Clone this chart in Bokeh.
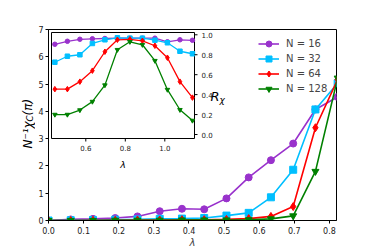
from math import pi
from bokeh.plotting import figure
from bokeh.layouts import row
from bokeh.models import (Range1d, FixedTicker, PrintfTickFormatter, Label, Legend,
                          LegendItem)
from bokeh.core.properties import value
from bokeh.embed import file_html
from bokeh.resources import INLINE

# ---------------- data ----------------
lam_main = [0.0, 0.0633, 0.1267, 0.19, 0.2533, 0.3167, 0.38, 0.4433, 0.5067,
            0.57, 0.6333, 0.6967, 0.76, 0.8233]
chi_16 = [0.0, 0.04, 0.06, 0.09, 0.15, 0.34, 0.43, 0.41, 0.81, 1.58, 2.21, 2.82, 4.07, 4.53]
chi_32 = [0.0, 0.01, 0.02, 0.03, 0.04, 0.06, 0.07, 0.09, 0.18, 0.28, 0.85, 1.86, 4.07, 5.03]
chi_64 = [0.0, 0.0, 0.01, 0.01, 0.02, 0.02, 0.03, 0.03, 0.04, 0.07, 0.15, 0.51, 3.40, 5.17]
chi_128 = [0.0, 0.0, 0.0, 0.01, 0.01, 0.01, 0.02, 0.02, 0.02, 0.03, 0.06, 0.17, 1.80, 5.22]

lam_inset = [0.4433, 0.5067, 0.57, 0.6333, 0.6967, 0.76, 0.8233, 0.8867, 0.95,
             1.0133, 1.0767, 1.14]
R_16 = [0.905, 0.935, 0.955, 0.96, 0.963, 0.966, 0.966, 0.966, 0.966, 0.93, 0.95, 0.945]
R_32 = [0.725, 0.785, 0.80, 0.913, 0.95, 0.97, 0.966, 0.966, 0.946, 0.92, 0.835, 0.81]
R_64 = [0.455, 0.455, 0.53, 0.64, 0.83, 0.95, 0.955, 0.94, 0.89, 0.77, 0.53, 0.37]
R_128 = [0.20, 0.20, 0.245, 0.33, 0.495, 0.85, 0.93, 0.90, 0.74, 0.45, 0.248, 0.14]

labels = ["N = 16", "N = 32", "N = 64", "N = 128"]
colors = ["#9932CC", "#00BFFF", "#FF0000", "#008000"]
markers = ["circle", "square", "diamond", "inverted_triangle"]

main_xticks = [0.0, 0.1, 0.2, 0.3, 0.4, 0.5, 0.6, 0.7, 0.8]
main_yticks = [0, 1, 2, 3, 4, 5, 6, 7]
inset_xticks = [0.6, 0.8, 1.0]
inset_xtick_labels = ["0.6", "0.8", "1.0"]
inset_yticks = [0.0, 0.2, 0.4, 0.6, 0.8, 1.0]
inset_ytick_labels = ["0.0", "0.2", "0.4", "0.6", "0.8", "1.0"]

FONT = "DejaVu Sans"

# ---------------- layout constants ----------------
LW = 35                               # width of the y-label strip
FW, FH = 288, 191                     # main frame size (px)
TOP, BOT = 29, 28                     # borders above / below the frame
IX0, IX1 = 0.4263, 1.1504             # inset data limits
IY0, IY1 = -0.04, 1.023
IL, IR, IB, IT = 3, 146, 82, 188      # inset frame, px from main frame bottom-left

sx = (IR - IL) / (IX1 - IX0)
sy = (IT - IB) / (IY1 - IY0)
ix_start = IX0 - IL / sx
iy_start = IY0 - IB / sy

# ---------------- y-label strip (same vertical layout as the main plot) ----------------
lab = figure(frame_width=LW, frame_height=FH,
             min_border_left=0, min_border_right=0,
             min_border_top=TOP, min_border_bottom=BOT,
             x_range=Range1d(0, LW), y_range=Range1d(0, FH),
             x_axis_location=None, y_axis_location=None,
             output_backend="svg", toolbar_location=None)
lab.grid.visible = False
lab.outline_line_color = None
lab.background_fill_color = "white"
lab.border_fill_color = "white"
lab.add_layout(Label(x=27.5, y=72, x_units="screen", y_units="screen", angle=pi / 2,
                     text="N⁻¹χ", text_font=FONT, text_font_size="12px",
                     text_font_style="italic", text_baseline="alphabetic",
                     text_align="left", text_color="black"))
lab.add_layout(Label(x=29.5, y=99, x_units="screen", y_units="screen", angle=pi / 2,
                     text="C", text_font=FONT, text_font_size="8.5px",
                     text_font_style="italic", text_baseline="alphabetic",
                     text_align="left", text_color="black"))
lab.add_layout(Label(x=27.5, y=105, x_units="screen", y_units="screen", angle=pi / 2,
                     text="(π)", text_font=FONT, text_font_size="12px",
                     text_font_style="italic", text_baseline="alphabetic",
                     text_align="left", text_color="black"))

# ---------------- main figure ----------------
p = figure(frame_width=FW, frame_height=FH,
           min_border_left=46 - LW, min_border_right=38,
           min_border_top=TOP, min_border_bottom=BOT,
           x_range=Range1d(0, 0.82), y_range=Range1d(0, 7),
           output_backend="svg", toolbar_location=None)
p.extra_x_ranges = {"ix": Range1d(ix_start, ix_start + FW / sx)}
p.extra_y_ranges = {"iy": Range1d(iy_start, iy_start + FH / sy)}
p.grid.visible = False
p.outline_line_color = "black"
p.outline_line_width = 1
p.background_fill_color = "white"
p.border_fill_color = "white"

for ax in (p.xaxis[0], p.yaxis[0]):
    ax.axis_line_color = "black"
    ax.major_tick_in = 0
    ax.major_tick_out = 3
    ax.minor_tick_line_color = None
    ax.major_label_text_font = FONT
    ax.major_label_text_font_size = "8px"
    ax.major_label_text_color = "#222222"
p.xaxis.ticker = FixedTicker(ticks=main_xticks)
p.xaxis.formatter = PrintfTickFormatter(format="%.1f")
p.xaxis.major_label_standoff = 3
p.xaxis.axis_label = "λ"
p.xaxis.axis_label_text_font = FONT
p.xaxis.axis_label_text_font_size = "10px"
p.xaxis.axis_label_text_font_style = "italic"
p.xaxis.axis_label_standoff = 0
p.yaxis.ticker = FixedTicker(ticks=main_yticks)
p.yaxis.formatter = PrintfTickFormatter(format="%d")
p.yaxis.major_label_standoff = 2

items = []
for ys, lb, col, mk in zip([chi_16, chi_32, chi_64, chi_128], labels, colors, markers):
    r1 = p.line(lam_main, ys, line_color=col, line_width=1.6)
    r2 = p.scatter(lam_main, ys, marker=mk, size=7 if mk != "diamond" else 8,
                   fill_color=col, line_color=col)
    items.append(LegendItem(label=lb, renderers=[r1, r2]))

legend = Legend(items=items, location=(210, 124),
                label_text_font=FONT, label_text_font_size="10px",
                glyph_width=21, glyph_height=15, label_height=15,
                label_standoff=7, spacing=0, padding=0, margin=0,
                border_line_color=None, background_fill_alpha=0)
p.add_layout(legend)

# ---------------- inset (drawn on extra ranges) ----------------
p.quad(left=[IX0], right=[IX1], bottom=[IY0], top=[IY1],
       x_range_name="ix", y_range_name="iy",
       fill_color="white", line_color="black", line_width=1)
for ys, col, mk in zip([R_16, R_32, R_64, R_128], colors, markers):
    p.line(lam_inset, ys, line_color=col, line_width=1.3,
           x_range_name="ix", y_range_name="iy")
    p.scatter(lam_inset, ys, marker=mk, size=4.5 if mk != "diamond" else 5.5,
              fill_color=col, line_color=col, x_range_name="ix", y_range_name="iy")
p.ray(x=inset_xticks, y=[IY0] * len(inset_xticks), length=3, length_units="screen",
      angle=-pi / 2, line_color="black", line_width=1,
      x_range_name="ix", y_range_name="iy")
p.text(x=inset_xticks, y=[IY0] * len(inset_xticks), text=inset_xtick_labels,
       y_offset=6, text_align="center", text_baseline="top",
       text_font=value(FONT), text_font_size="7px", text_color="#222222",
       x_range_name="ix", y_range_name="iy")
p.ray(x=[IX1] * len(inset_yticks), y=inset_yticks, length=3, length_units="screen",
      angle=0, line_color="black", line_width=1,
      x_range_name="ix", y_range_name="iy")
p.text(x=[IX1] * len(inset_yticks), y=inset_yticks, text=inset_ytick_labels,
       x_offset=7, text_align="left", text_baseline="middle",
       text_font=value(FONT), text_font_size="7px", text_color="#222222",
       x_range_name="ix", y_range_name="iy")

p.add_layout(Label(x=(IL + IR) / 2, y=IB - 26, x_units="screen", y_units="screen",
                   text="λ", text_font=FONT, text_font_size="9.5px",
                   text_font_style="italic", text_baseline="alphabetic",
                   text_align="center", text_color="black"))
p.add_layout(Label(x=162, y=124, x_units="screen", y_units="screen",
                   text="R", text_font=FONT, text_font_size="13px",
                   text_font_style="italic", text_baseline="alphabetic",
                   text_align="left", text_color="black"))
p.add_layout(Label(x=171, y=121, x_units="screen", y_units="screen",
                   text="χ", text_font=FONT, text_font_size="9px",
                   text_font_style="italic", text_baseline="alphabetic",
                   text_align="left", text_color="black"))

layout = row(lab, p, spacing=0)
open("out.html", "w").write(file_html(layout, INLINE))
